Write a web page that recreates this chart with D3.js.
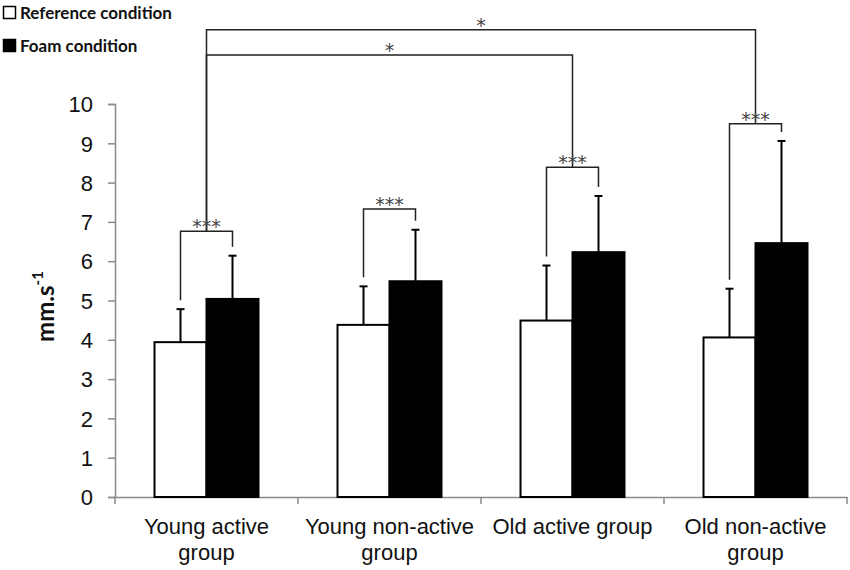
<!DOCTYPE html>
<html>
<head>
<meta charset="utf-8">
<script src="https://cdn.jsdelivr.net/npm/d3@7"></script>
<style>
  body { margin: 0; background: #fff; }
  svg { display: block; font-family: Lato, "Open Sans", sans-serif; }
</style>
</head>
<body>
<svg id="chart" width="850" height="570"></svg>
<script>
// data
const categories = [["Young active", "group"], ["Young non-active", "group"], ["Old active group"], ["Old non-active", "group"]]
const conditions = ["Reference condition", "Foam condition"]
const refValues = [3.94, 4.38, 4.49, 4.06]
const refErrors = [0.84, 0.98, 1.40, 1.24]
const foamValues = [5.04, 5.49, 6.23, 6.46]
const foamErrors = [1.10, 1.31, 1.43, 2.60]
const yTicks = [0, 1, 2, 3, 4, 5, 6, 7, 8, 9, 10]
// within-group brackets (***) height in y units
const withinLevels = [6.76, 7.33, 8.39, 9.50]
// between-group brackets (*): from young active to group `to`
const betweenTo = [2, 3]
const betweenLevels = [11.25, 11.89]

const svgWidth = 850, svgHeight = 570
const margins = { top: 104, right: 3, bottom: 73, left: 115 }
const plotWidth = svgWidth - margins.left - margins.right
const plotHeight = svgHeight - margins.top - margins.bottom

const svg = d3.select("#chart")
const catKeys = categories.map(c => c.join(" "))

const xScale = d3.scaleBand()
    .domain(catKeys)
    .range([0, plotWidth])
const xSub = d3.scaleBand()
    .domain(conditions)
    .range([0, xScale.bandwidth()])
    .paddingInner(0)
    .paddingOuter(0.76)
const yScale = d3.scaleLinear()
    .domain([0, 10])
    .range([plotHeight, 0])

const plot = svg.append("g")
    .attr("transform", `translate(${margins.left},${margins.top})`)

// axes
const yAxis = plot.append("g")
    .call(d3.axisLeft(yScale).tickValues(yTicks).tickSize(7).tickPadding(15))
yAxis.select(".domain").attr("stroke", "#8a8a8a").attr("stroke-width", 1.5)
yAxis.selectAll(".tick line").attr("stroke", "#8a8a8a").attr("stroke-width", 1.5)
yAxis.selectAll(".tick text")
    .attr("font-size", 22)
    .attr("fill", "#111")
    .attr("dy", "0.35em")

const xAxis = plot.append("g")
    .attr("transform", `translate(0,${plotHeight})`)
    .call(d3.axisBottom(xScale).tickSize(0).tickFormat(""))
xAxis.select(".domain").attr("stroke", "#8a8a8a").attr("stroke-width", 1.5)
// tick marks between categories
const boundaries = d3.range(catKeys.length + 1).map(i => i * xScale.step())
xAxis.selectAll(".sep")
    .data(boundaries)
    .enter()
    .append("line")
    .attr("x1", d => d).attr("x2", d => d)
    .attr("y1", 0).attr("y2", 7)
    .attr("stroke", "#8a8a8a")
    .attr("stroke-width", 1.5)

// category labels
categories.forEach((lines, i) => {
    const t = xAxis.append("text")
        .attr("x", xScale(catKeys[i]) + xScale.bandwidth() / 2)
        .attr("y", 37)
        .attr("text-anchor", "middle")
        .attr("font-size", 22)
        .attr("fill", "#111")
    lines.forEach((line, j) => {
        t.append("tspan")
            .attr("x", xScale(catKeys[i]) + xScale.bandwidth() / 2)
            .attr("dy", j === 0 ? 0 : 26)
            .text(line)
    })
})

// y title
svg.append("text")
    .attr("transform", `translate(54,${margins.top + plotHeight / 2 + 6}) rotate(-90)`)
    .attr("text-anchor", "middle")
    .attr("font-size", 24)
    .attr("font-weight", "bold")
    .attr("fill", "#111")
    .call(t => {
        t.append("tspan").text("mm.s")
        t.append("tspan").attr("font-size", 15).attr("dy", -11).text("-1")
    })

// bars
const series = [
    { name: conditions[0], values: refValues, errors: refErrors, fill: "#fff" },
    { name: conditions[1], values: foamValues, errors: foamErrors, fill: "#000" }
]
const barCenter = (s, i) => xScale(catKeys[i]) + xSub(s.name) + xSub.bandwidth() / 2

series.forEach(s => {
    const g = plot.append("g")
    g.selectAll("rect")
        .data(s.values)
        .enter()
        .append("rect")
        .attr("x", (d, i) => xScale(catKeys[i]) + xSub(s.name))
        .attr("y", d => yScale(d))
        .attr("width", xSub.bandwidth())
        .attr("height", d => plotHeight - yScale(d))
        .attr("fill", s.fill)
        .attr("stroke", "#000")
        .attr("stroke-width", 2)
    // upward error bars
    g.selectAll(".err")
        .data(s.values)
        .enter()
        .append("line")
        .attr("x1", (d, i) => barCenter(s, i))
        .attr("x2", (d, i) => barCenter(s, i))
        .attr("y1", d => yScale(d))
        .attr("y2", (d, i) => yScale(d + s.errors[i]))
        .attr("stroke", "#000")
        .attr("stroke-width", 2)
    g.selectAll(".cap")
        .data(s.values)
        .enter()
        .append("line")
        .attr("x1", (d, i) => barCenter(s, i) - 4)
        .attr("x2", (d, i) => barCenter(s, i) + 4)
        .attr("y1", (d, i) => yScale(d + s.errors[i]))
        .attr("y2", (d, i) => yScale(d + s.errors[i]))
        .attr("stroke", "#000")
        .attr("stroke-width", 2)
})

// significance brackets
const gap = 9
const sig = plot.append("g")
    .attr("fill", "none")
    .attr("stroke", "#222")
    .attr("stroke-width", 1.5)

withinLevels.forEach((lvl, i) => {
    const x1 = barCenter(series[0], i)
    const x2 = barCenter(series[1], i)
    const yTop = yScale(lvl)
    const yL = yScale(refValues[i] + refErrors[i]) - gap
    const yR = yScale(foamValues[i] + foamErrors[i]) - gap
    sig.append("path")
        .attr("d", `M${x1},${yL}V${yTop}H${x2}V${yR}`)
    plot.append("text")
        .attr("x", (x1 + x2) / 2)
        .attr("y", yTop + 2)
        .attr("text-anchor", "middle")
        .attr("font-family", "DejaVu Sans")
        .attr("font-size", 19)
        .attr("letter-spacing", 0)
        .attr("fill", "#444")
        .text("***")
})

betweenTo.forEach((to, k) => {
    const xa = (barCenter(series[0], 0) + barCenter(series[1], 0)) / 2
    const xb = (barCenter(series[0], to) + barCenter(series[1], to)) / 2
    const yTop = yScale(betweenLevels[k])
    sig.append("path")
        .attr("d", `M${xa},${yScale(withinLevels[0])}V${yTop}H${xb}V${yScale(withinLevels[to])}`)
    plot.append("text")
        .attr("x", (xa + xb) / 2)
        .attr("y", yTop + 2)
        .attr("text-anchor", "middle")
        .attr("font-family", "DejaVu Sans")
        .attr("font-size", 19)
        .attr("fill", "#444")
        .text("*")
})

// legend
const legend = svg.append("g").attr("transform", "translate(3,5)")
series.forEach((s, i) => {
    const row = legend.append("g").attr("transform", `translate(0,${i * 33})`)
    row.append("rect")
        .attr("x", 0.5).attr("y", 1.5)
        .attr("width", 12).attr("height", 12)
        .attr("fill", s.fill)
        .attr("stroke", "#000")
        .attr("stroke-width", 1.5)
    row.append("text")
        .attr("x", 17)
        .attr("y", 8)
        .attr("dy", "0.35em")
        .attr("font-size", 17)
        .attr("font-weight", "bold")
        .attr("fill", "#111")
        .text(s.name)
})
</script>
</body>
</html>
